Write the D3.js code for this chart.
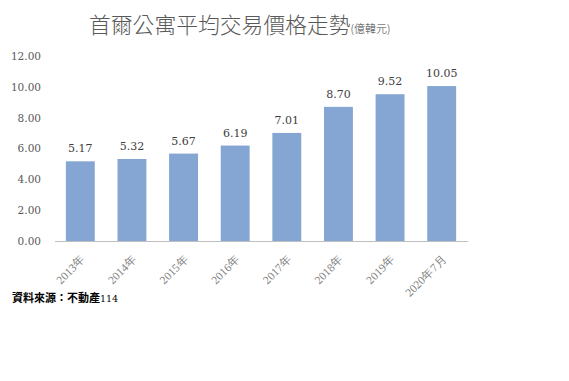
<!DOCTYPE html>
<html><head><meta charset="utf-8">
<script src="https://cdn.jsdelivr.net/npm/d3@7"></script>
<style>
html,body{margin:0;padding:0;background:#fff;}
</style>
</head><body>
<svg id="chart" width="569" height="381"></svg>
<script>
const categories = ["2013年","2014年","2015年","2016年","2017年","2018年","2019年","2020年7月"];
const values = [5.17, 5.32, 5.67, 6.19, 7.01, 8.70, 9.52, 10.05];
const yTicks = [0, 2, 4, 6, 8, 10, 12];
const titleText = "首爾公寓平均交易價格走勢";
const unitText = "(億韓元)";
const sourceText = "資料來源：不動產";
const sourceNum = "114";

const svg = d3.select("#chart");
svg.append("rect").attr("width",569).attr("height",381).attr("fill","#fff");

const x = d3.scaleBand().domain(categories).range([54.5, 467.5]).paddingInner(0.44).paddingOuter(0.22);
const y = d3.scaleLinear().domain([0, 12]).range([241, 56]);

const cjk = "'Noto Sans CJK TC','Noto Sans CJK SC',sans-serif";

// title
const t = svg.append("text").attr("x", 89).attr("y", 33)
  .attr("font-family", cjk).attr("font-weight", 300).attr("fill", "#595959");
t.append("tspan").attr("font-size", 21.8).text(titleText);
t.append("tspan").attr("font-size", 11).attr("fill","#404040").text(unitText);

// y axis labels
const yAxis = d3.axisLeft(y).tickValues(yTicks).tickFormat(d3.format(".2f")).tickSize(0).tickPadding(0);
const yg = svg.append("g").attr("transform", "translate(41,0)").call(yAxis);
yg.select(".domain").remove();
yg.selectAll("text").attr("font-family","'DejaVu Serif',serif").attr("font-size",10.5).attr("fill","#595959");

// bars
svg.append("g").selectAll("rect").data(values).join("rect")
  .attr("x", (d,i) => x(categories[i]))
  .attr("width", x.bandwidth())
  .attr("y", d => y(d))
  .attr("height", d => y(0) - y(d))
  .attr("fill", "#85A6D2");

// data labels
svg.append("g").selectAll("text").data(values).join("text")
  .attr("x", (d,i) => x(categories[i]) + x.bandwidth()/2)
  .attr("y", d => y(d) - 9)
  .attr("text-anchor", "middle")
  .attr("font-family","'DejaVu Serif',serif").attr("font-size", 11)
  .attr("fill", "#404040")
  .text(d => d3.format(".2f")(d));

// x axis
const xAxis = d3.axisBottom(x).tickSize(0).tickPadding(0);
const xg = svg.append("g").attr("transform", "translate(0,241)").call(xAxis);
xg.select(".domain").attr("stroke", "#bfbfbf").attr("stroke-width", 1);
xg.selectAll("text")
  .attr("font-family","'Liberation Serif',serif").attr("font-size", 11.5).attr("fill", "#7f7f7f")
  .attr("text-anchor", "end")
  .attr("dy", 0)
  .attr("transform", "translate(5.5,19) rotate(-45)");

// source
const s = svg.append("text").attr("x", 12).attr("y", 302).attr("fill","#000");
s.append("tspan").attr("font-family", cjk).attr("font-weight", 700).attr("font-size", 11).text(sourceText);
s.append("tspan").attr("font-family","'DejaVu Serif',serif").attr("font-size", 9.5).text(sourceNum);
</script>
</body></html>
